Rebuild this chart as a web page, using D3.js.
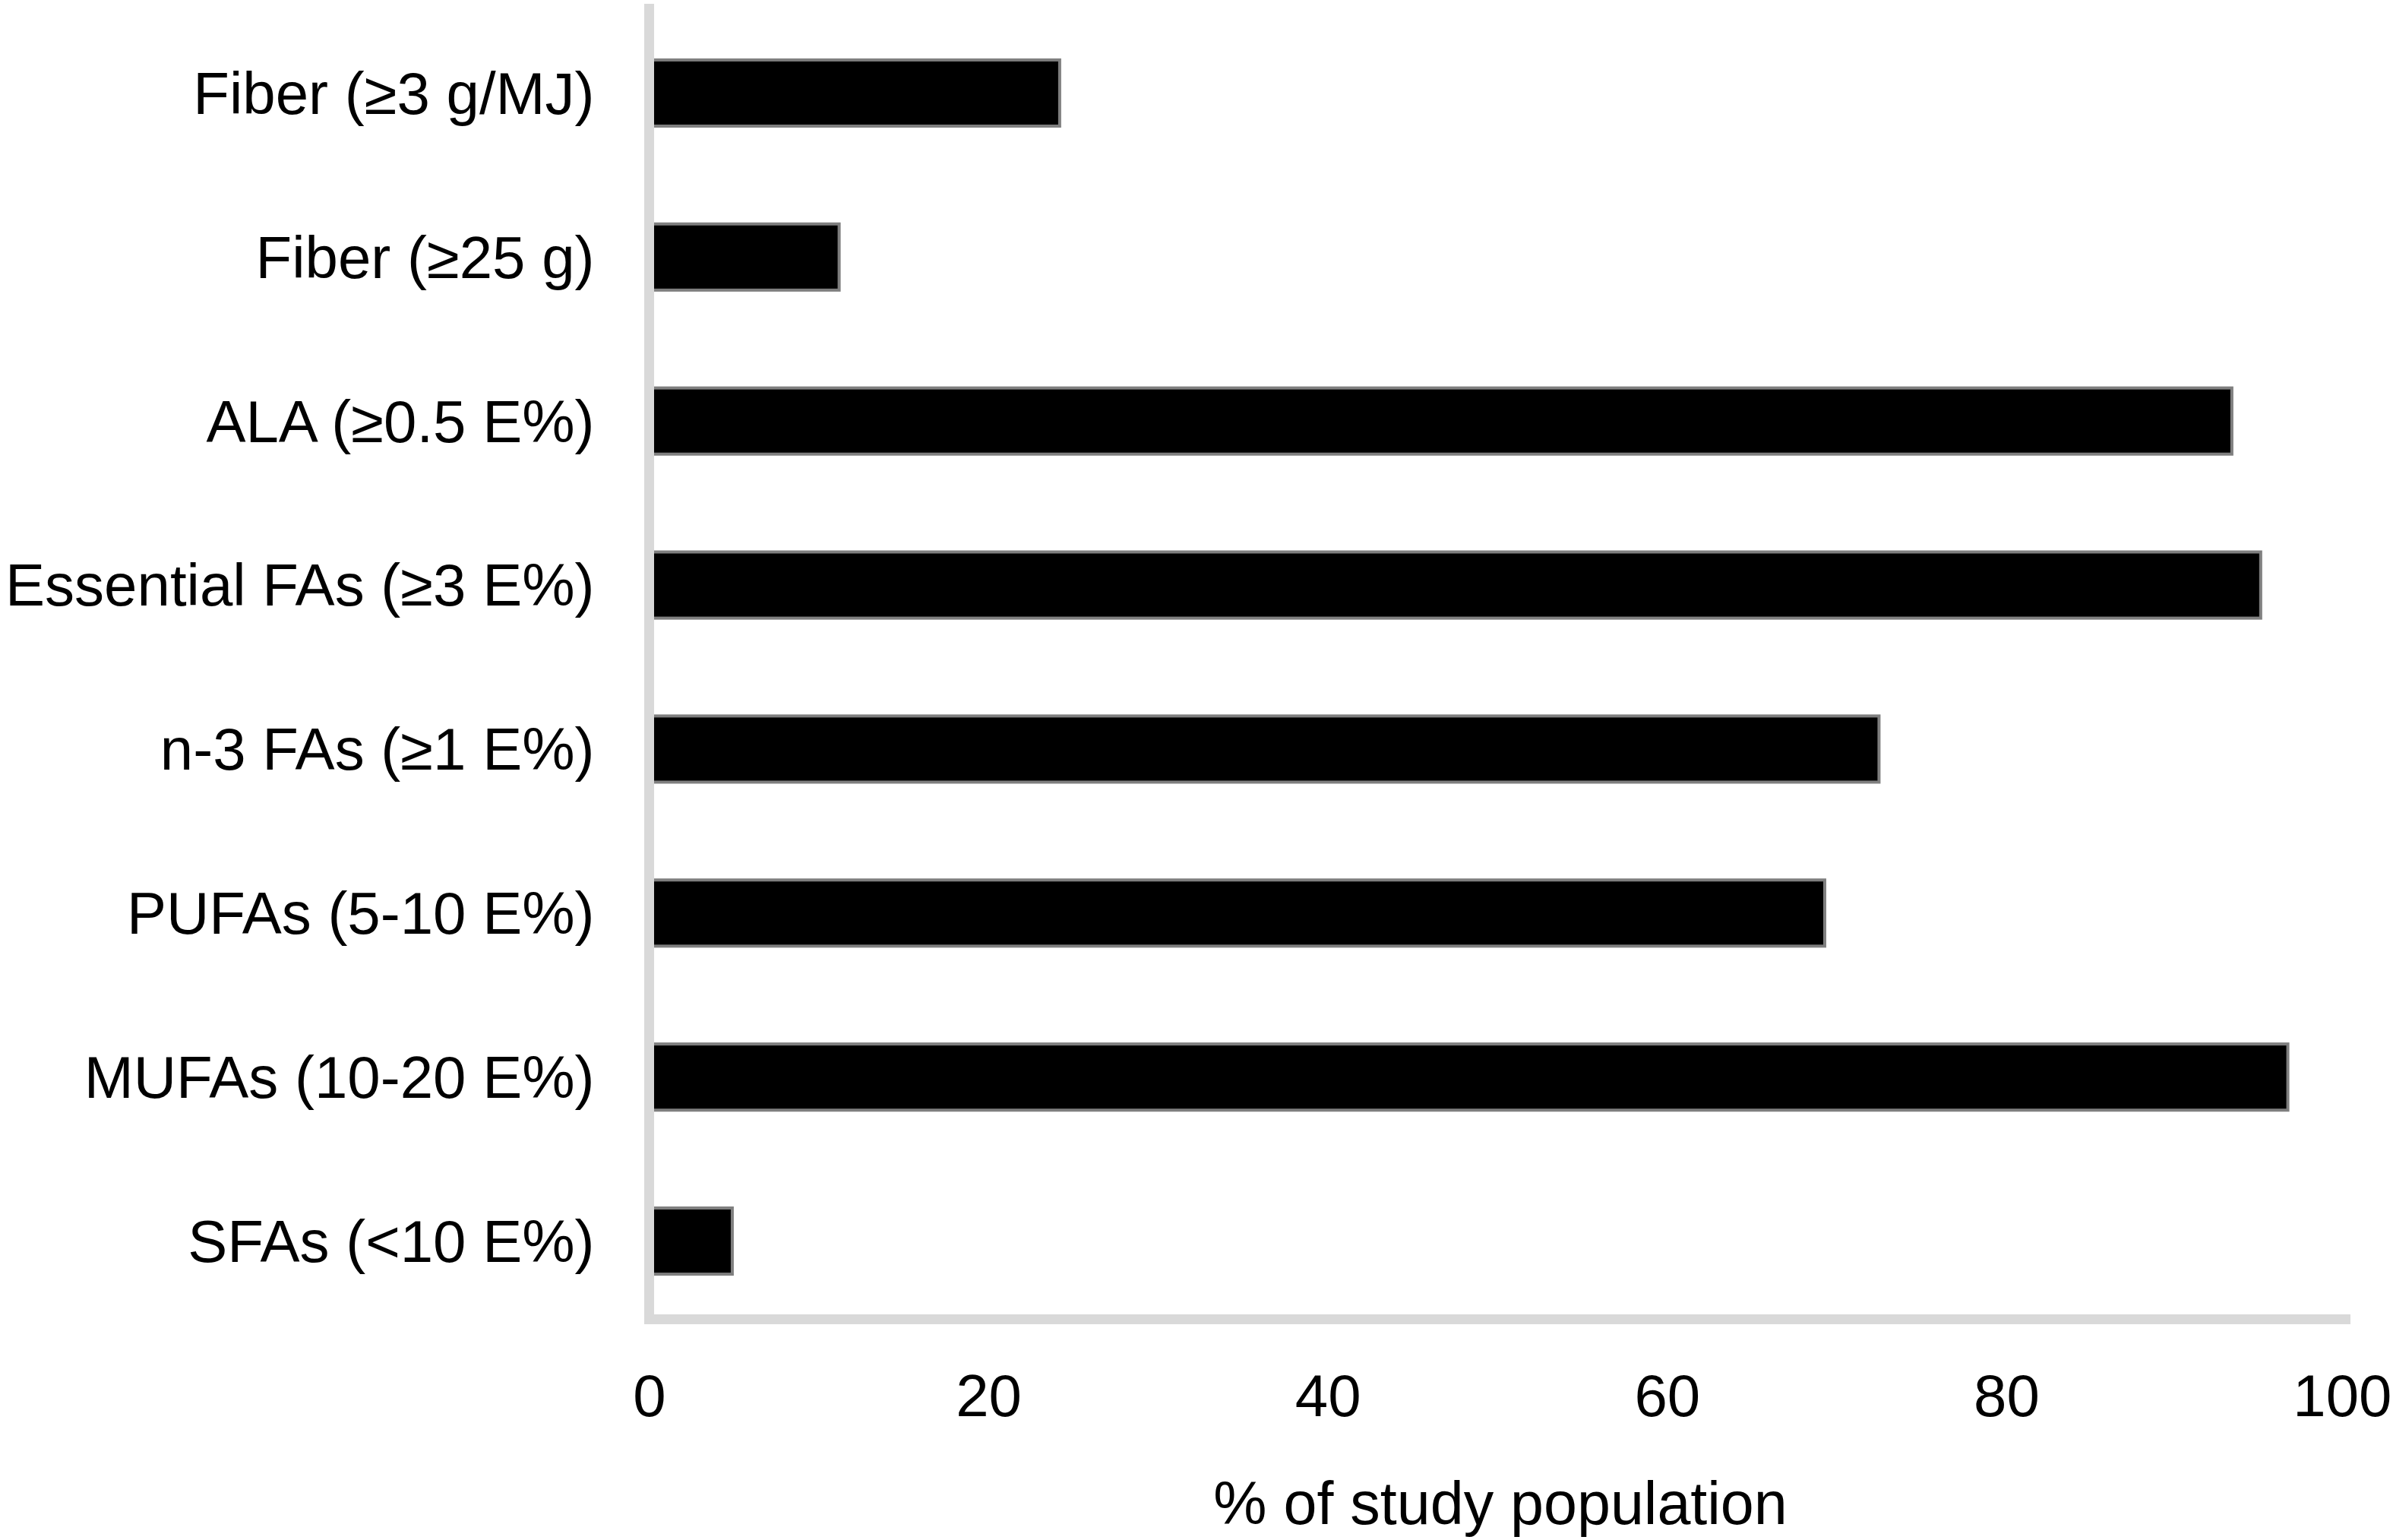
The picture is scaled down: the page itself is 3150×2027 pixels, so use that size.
<!DOCTYPE html>
<html>
<head>
<meta charset="utf-8">
<script src="https://cdn.jsdelivr.net/npm/d3@7"></script>
<style>
  html, body { margin: 0; padding: 0; background: #fff; }
  svg text { font-family: "Liberation Sans", Arial, sans-serif; fill: #000; }
</style>
</head>
<body>
<div id="chart"></div>
<script>
// Data
const categories = [
    "Fiber (≥3 g/MJ)",
    "Fiber (≥25 g)",
    "ALA (≥0.5 E%)",
    "Essential FAs (≥3 E%)",
    "n-3 FAs (≥1 E%)",
    "PUFAs (5-10 E%)",
    "MUFAs (10-20 E%)",
    "SFAs (<10 E%)"
];
const percentages = [24.2, 11.2, 93.3, 95.0, 72.5, 69.3, 96.6, 4.9];
const xTicks = [0, 20, 40, 60, 80, 100];
const xTitle = "% of study population";

const W = 3150, H = 2027;
const labelSize = 78;
const tickSize = 78;
const titleSize = 79;

const svg = d3.select("#chart")
    .append("svg")
    .attr("width", W)
    .attr("height", H);

// Scales
const x = d3.scaleLinear()
    .domain([0, 100])
    .range([854.5, 3087.5]);

const y = d3.scaleBand()
    .domain(categories)
    .range([14.5, 1741.5])
    .paddingInner(0.578)
    .paddingOuter(0.289);

const axisY = 1736.5;   // where the value axis sits

// Bars (drawn first so the axis line covers their left edge)
svg.append("g")
    .selectAll("rect")
    .data(categories)
    .join("rect")
    .attr("x", x(0))
    .attr("y", d => y(d) + 2)
    .attr("width", (d, i) => x(percentages[i]) - x(0))
    .attr("height", y.bandwidth() - 4)
    .attr("fill", "#000")
    .attr("stroke", "#7f7f7f")
    .attr("stroke-width", 4);

// Axis lines (light grey, thick)
svg.append("line")
    .attr("x1", x(0)).attr("x2", x(0))
    .attr("y1", 5).attr("y2", axisY + 6.5)
    .attr("stroke", "#d9d9d9")
    .attr("stroke-width", 13);

svg.append("line")
    .attr("x1", x(0) - 6.5).attr("x2", x(100) + 6.5)
    .attr("y1", axisY).attr("y2", axisY)
    .attr("stroke", "#d9d9d9")
    .attr("stroke-width", 13);

// X axis labels
const xAxis = d3.axisBottom(x)
    .tickValues(xTicks)
    .tickSize(0)
    .tickPadding(0)
    .tickFormat(d3.format("d"));

const xAxisGroup = svg.append("g")
    .attr("transform", `translate(0,${axisY})`)
    .call(xAxis);
xAxisGroup.select(".domain").remove();
xAxisGroup.selectAll("text")
    .attr("y", 127)
    .attr("dy", null)
    .style("font-size", tickSize + "px")
    .style("font-family", "'Liberation Sans', Arial, sans-serif");

// keep the last tick label inside the page
xAxisGroup.selectAll(".tick").each(function(d) {
    const t = d3.select(this).select("text");
    const half = t.node().getComputedTextLength() / 2;
    const over = x(d) + half - (W - 2);
    if (over > 0) t.attr("x", -over);
});

// Y axis labels
const yAxis = d3.axisLeft(y)
    .tickSize(0)
    .tickPadding(0);

const yAxisGroup = svg.append("g")
    .attr("transform", `translate(${x(0)},0)`)
    .call(yAxis);
yAxisGroup.select(".domain").remove();
yAxisGroup.selectAll("text")
    .attr("x", -72)
    .attr("dy", "0.35em")
    .style("font-size", labelSize + "px")
    .style("font-family", "'Liberation Sans', Arial, sans-serif");

// X axis title
svg.append("text")
    .attr("x", (x(0) + x(100)) / 2 + 4)
    .attr("y", 2006)
    .attr("text-anchor", "middle")
    .style("font-size", titleSize + "px")
    .text(xTitle);
</script>
</body>
</html>
